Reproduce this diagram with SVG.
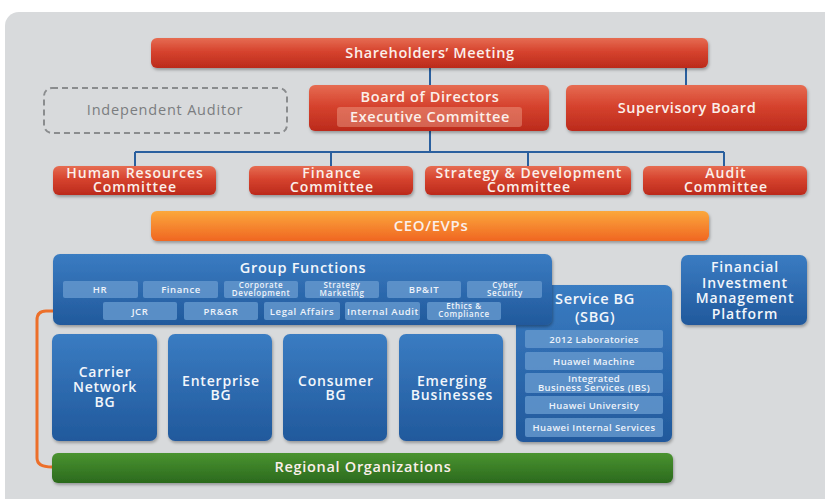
<svg xmlns="http://www.w3.org/2000/svg" width="825" height="499" viewBox="0 0 825 499">
<defs>
<linearGradient id="gRed" x1="0" y1="0" x2="0" y2="1">
<stop offset="0" stop-color="#e66c52"/><stop offset="0.45" stop-color="#d6432e"/><stop offset="1" stop-color="#bb2a1c"/>
</linearGradient>
<linearGradient id="gOrange" x1="0" y1="0" x2="0" y2="1">
<stop offset="0" stop-color="#fba83c"/><stop offset="1" stop-color="#f06622"/>
</linearGradient>
<linearGradient id="gBlue" x1="0" y1="0" x2="0" y2="1">
<stop offset="0" stop-color="#3a7cc2"/><stop offset="1" stop-color="#21599c"/>
</linearGradient>
<linearGradient id="gGreen" x1="0" y1="0" x2="0" y2="1">
<stop offset="0" stop-color="#4a9330"/><stop offset="1" stop-color="#2b6a1d"/>
</linearGradient>
<filter id="sh" x="-5%" y="-20%" width="110%" height="150%">
<feDropShadow dx="1" dy="2" stdDeviation="1.5" flood-color="#000" flood-opacity="0.3"/>
</filter>
</defs>
<style>
.red{fill:url(#gRed);filter:url(#sh)}
.blue{fill:url(#gBlue);filter:url(#sh)}
.pill{fill:#6396cc;opacity:0.85}
.t{font-family:"Open Sans","Liberation Sans",sans-serif;font-weight:600;text-anchor:middle;fill:#fbefea;font-size:14.5px;letter-spacing:0.6px}
.ct{font-size:14px;letter-spacing:1px}
.tb{font-family:"Open Sans","Liberation Sans",sans-serif;font-weight:600;text-anchor:middle;fill:#f2f6fb;font-size:14px;letter-spacing:0.8px}
.pt{font-family:"Open Sans","Liberation Sans",sans-serif;font-weight:600;text-anchor:middle;fill:#eef3fa;font-size:9.5px;letter-spacing:0.6px}
.p2{font-size:8px}
.st{font-family:"Open Sans","Liberation Sans",sans-serif;font-weight:600;text-anchor:middle;fill:#eef3fa;font-size:9.5px;letter-spacing:0.4px}
.con{stroke:#2a5f9e;stroke-width:2;fill:none}
</style>
<rect x="5" y="12" width="840" height="500" rx="14" fill="#d8dadc"/>

<g id="connectors">
<path class="con" d="M430 67V85M686 67V85M430 131V152M135 152H724M135 152V166M331 152V166M528 152V166M724 152V166"/>
<path d="M103 311H46Q37 311 37 320V458Q37 467 52 467" stroke="#ec6f2a" stroke-width="3" fill="none"/>
</g>

<g id="shareholders"><rect class="red" x="151" y="38" width="557" height="30" rx="6"/><text class="t" x="430" y="58">Shareholders’ Meeting</text></g>

<g id="auditor"><rect x="44" y="88" width="243" height="45" rx="8" fill="none" stroke="#8a8c8e" stroke-width="2" stroke-dasharray="6 4"/><text x="165" y="115" font-family="'Open Sans','Liberation Sans',sans-serif" font-size="14.5" letter-spacing="0.8" fill="#7b7d80" text-anchor="middle">Independent Auditor</text></g>

<g id="board"><rect class="red" x="309" y="85" width="240" height="46" rx="6"/><text class="t" x="430" y="102">Board of Directors</text><rect x="337" y="107" width="185" height="20" rx="3" fill="#f0a58e" opacity="0.45"/><text class="t" x="430" y="122">Executive Committee</text></g>

<g id="supervisory"><rect class="red" x="566" y="85" width="241" height="46" rx="6"/><text class="t" x="687" y="113">Supervisory Board</text></g>

<g id="hr"><rect class="red" x="53" y="166" width="163" height="29" rx="6"/><text class="t ct" x="135" y="178">Human Resources</text><text class="t ct" x="135" y="192">Committee</text></g>
<g id="finance"><rect class="red" x="249" y="166" width="164" height="29" rx="6"/><text class="t ct" x="332" y="178">Finance</text><text class="t ct" x="332" y="192">Committee</text></g>
<g id="strategy"><rect class="red" x="425" y="166" width="206" height="29" rx="6"/><text class="t ct" x="529" y="178">Strategy &amp; Development</text><text class="t ct" x="529" y="192">Committee</text></g>
<g id="audit"><rect class="red" x="643" y="166" width="164" height="29" rx="6"/><text class="t ct" x="726" y="178">Audit</text><text class="t ct" x="726" y="192">Committee</text></g>

<g id="ceo"><rect x="151" y="211" width="558" height="30" rx="6" fill="url(#gOrange)" filter="url(#sh)"/><text class="t" x="431" y="231" style="font-size:15px" fill="#fde3c6">CEO/EVPs</text></g>

<g id="sbg"><rect class="blue" x="516" y="285" width="156" height="157" rx="7"/><text class="tb" x="595" y="304" style="font-size:14.5px;letter-spacing:0.6px">Service BG</text><text class="tb" x="595" y="322" style="font-size:14.5px;letter-spacing:0.6px">(SBG)</text>
<rect class="pill" x="525" y="330" width="138" height="18" rx="2"/><text class="st" x="594" y="342.5">2012 Laboratories</text>
<rect class="pill" x="525" y="352" width="138" height="18" rx="2"/><text class="st" x="594" y="364.5">Huawei Machine</text>
<rect class="pill" x="525" y="373" width="138" height="20" rx="2"/><text class="st" x="594" y="381.5">Integrated</text><text class="st" x="594" y="390.5">Business Services (IBS)</text>
<rect class="pill" x="525" y="396" width="138" height="18" rx="2"/><text class="st" x="594" y="408.5">Huawei University</text>
<rect class="pill" x="525" y="418" width="138" height="19" rx="2"/><text class="st" x="594" y="431">Huawei Internal Services</text></g>

<g id="group-functions"><rect class="blue" x="53" y="254" width="499" height="71" rx="7"/><text class="tb" x="303" y="273" style="font-size:14.5px;letter-spacing:0.7px">Group Functions</text>
<rect class="pill" x="63" y="281" width="75" height="17" rx="2"/><text class="pt" x="100" y="293">HR</text>
<rect class="pill" x="143" y="281" width="75" height="17" rx="2"/><text class="pt" x="181" y="293">Finance</text>
<rect class="pill" x="224" y="281" width="74" height="17" rx="2"/><text class="pt p2" x="261" y="288.3">Corporate</text><text class="pt p2" x="261" y="296.3">Development</text>
<rect class="pill" x="305" y="281" width="74" height="17" rx="2"/><text class="pt p2" x="342" y="288.3">Strategy</text><text class="pt p2" x="342" y="296.3">Marketing</text>
<rect class="pill" x="387" y="281" width="74" height="17" rx="2"/><text class="pt" x="424" y="293">BP&amp;IT</text>
<rect class="pill" x="467" y="281" width="75" height="17" rx="2"/><text class="pt p2" x="505" y="288.3">Cyber</text><text class="pt p2" x="505" y="296.3">Security</text>
<rect class="pill" x="103" y="302" width="74" height="18" rx="2"/><text class="pt" x="140" y="314.5">JCR</text>
<rect class="pill" x="184" y="302" width="74" height="18" rx="2"/><text class="pt" x="221" y="314.5">PR&amp;GR</text>
<rect class="pill" x="264" y="302" width="76" height="18" rx="2"/><text class="pt" x="302" y="314.5">Legal Affairs</text>
<rect class="pill" x="345" y="302" width="75" height="18" rx="2"/><text class="pt" x="383" y="314.5">Internal Audit</text>
<rect class="pill" x="427" y="302" width="74" height="18" rx="2"/><text class="pt p2" x="464" y="309.3">Ethics &amp;</text><text class="pt p2" x="464" y="317.3">Compliance</text></g>

<g id="fimp"><rect class="blue" x="681" y="255" width="126" height="70" rx="7"/><text class="tb" x="745" y="272" style="letter-spacing:0.9px">Financial</text><text class="tb" x="745" y="288" style="letter-spacing:0.9px">Investment</text><text class="tb" x="745" y="303" style="letter-spacing:0.9px">Management</text><text class="tb" x="745" y="319" style="letter-spacing:0.9px">Platform</text></g>

<g id="carrier"><rect class="blue" x="52" y="334" width="105" height="107" rx="7"/><text class="tb" x="105" y="377">Carrier</text><text class="tb" x="105" y="392">Network</text><text class="tb" x="105" y="407">BG</text></g>
<g id="enterprise"><rect class="blue" x="168" y="334" width="104" height="107" rx="7"/><text class="tb" x="221" y="386">Enterprise</text><text class="tb" x="221" y="400">BG</text></g>
<g id="consumer"><rect class="blue" x="283" y="334" width="104" height="107" rx="7"/><text class="tb" x="336" y="386">Consumer</text><text class="tb" x="336" y="400">BG</text></g>
<g id="emerging"><rect class="blue" x="399" y="334" width="104" height="107" rx="7"/><text class="tb" x="452" y="386">Emerging</text><text class="tb" x="452" y="400">Businesses</text></g>

<g id="regional"><rect x="52" y="453" width="621" height="30" rx="6" fill="url(#gGreen)" filter="url(#sh)"/><text class="t" x="363" y="472" style="letter-spacing:0.7px" fill="#eef5e4">Regional Organizations</text></g>
</svg>
